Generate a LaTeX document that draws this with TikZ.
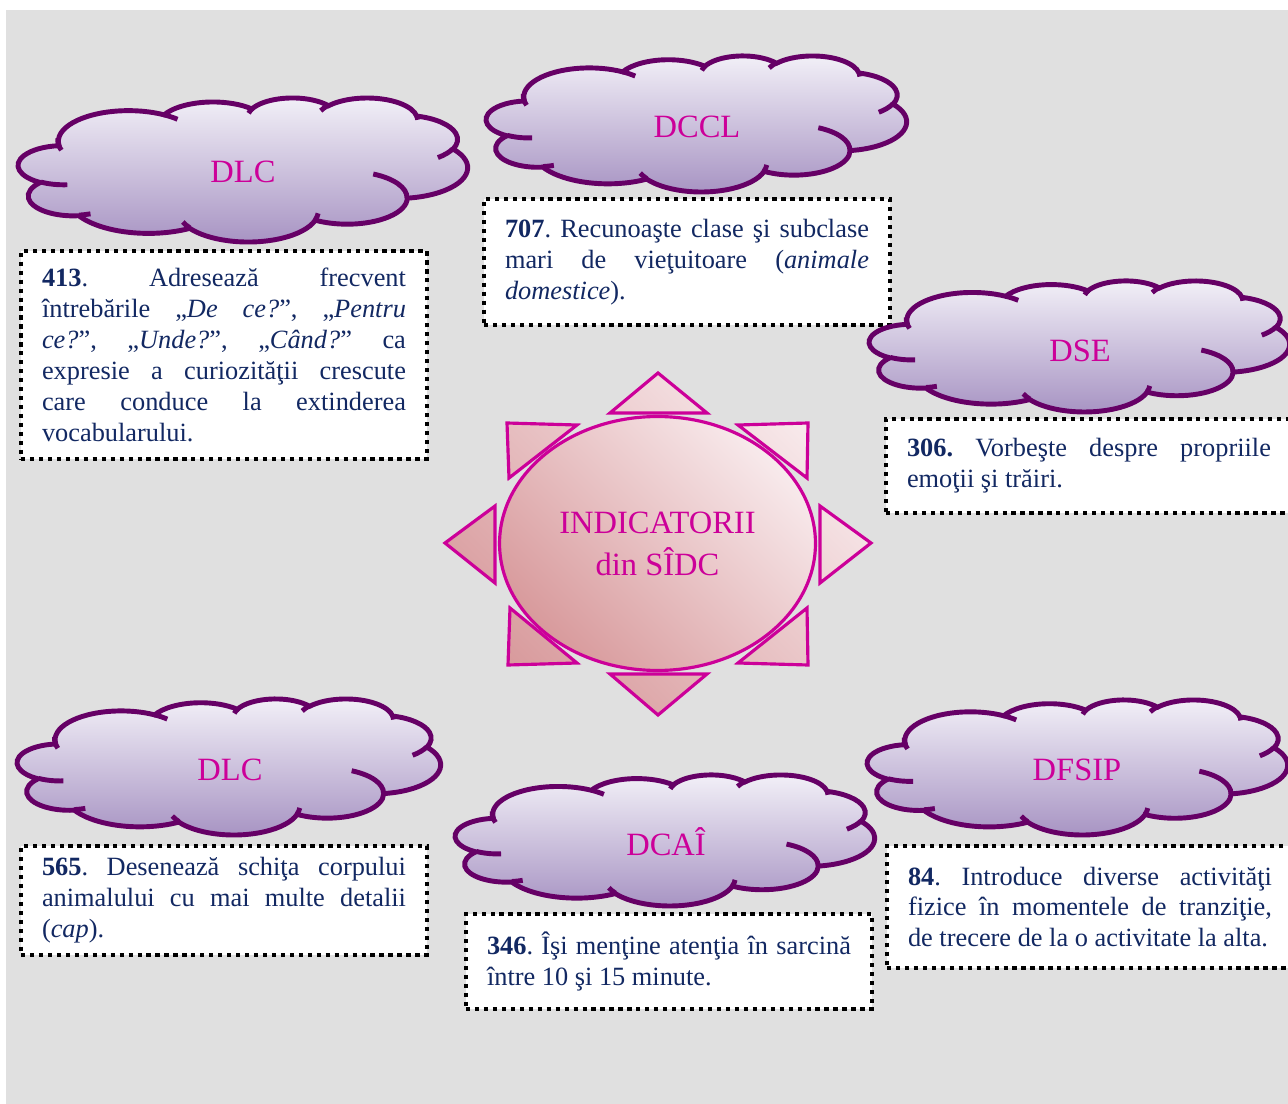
\documentclass[tikz,border=0pt]{standalone}
\usepackage{fontspec}
\setmainfont{Liberation Serif}
\usetikzlibrary{shapes.geometric}

\definecolor{navy}{RGB}{18,40,98}
\definecolor{mag}{RGB}{204,0,153}
\definecolor{cloudline}{RGB}{102,0,102}
\definecolor{cloudtop}{RGB}{243,241,248}
\definecolor{cloudbot}{RGB}{166,146,194}
\definecolor{pinklight}{RGB}{248,234,236}
\definecolor{pinkdark}{RGB}{216,154,156}
\definecolor{bg}{RGB}{224,224,224}
\tolerance=10000 \hbadness=10000 \hfuzz=20pt
\frenchspacing

% one bulge of the cloud: x radius, y radius, start and sweep angle (degrees)
\newcommand\puff[4]{arc[x radius=#1, y radius=#2,
  start angle={atan2(#1*sin(#3),#2*cos(#3))},
  delta angle={mod(atan2(#1*sin(#3+#4),#2*cos(#3+#4))-atan2(#1*sin(#3),#2*cos(#3))+720,360)}]}

\tikzset{
  pics/wcloud/.style={code={
    \shade[top color=cloudtop, bottom color=cloudbot, draw=cloudline, line width=2.8pt]
      (3.9,14.37) \puff{6.753}{9.19}{-190.4875}{123.7805}
      \puff{5.333}{7.267}{-144.1024}{89.9452}
      \puff{4.365}{5.945}{-145.8079}{99.723}
      \puff{4.857}{6.595}{-130.9861}{117.2417}
      \puff{5.333}{7.273}{-78.7089}{109.0269}
      \puff{6.775}{9.22}{-46.2673}{130.269}
      \puff{5.785}{7.867}{0.625}{114.0333}
      \puff{6.752}{9.215}{22.4516}{115.1726}
      \puff{7.72}{10.543}{66.2426}{75.711}
      \puff{4.36}{5.951}{-274.9421}{146.7356}
      \puff{4.345}{5.945}{-246.8285}{152.5189} -- cycle;
    \draw[cloudline, line width=2.8pt]
      (4.693,26.177) \puff{4.345}{5.945}{86.742}{26.4295}
      (6.928,34.899) \puff{4.36}{5.951}{73.6105}{11.4475}
      (16.478,39.09) \puff{6.752}{9.215}{137.6242}{14.0811}
      (28.827,34.751) \puff{6.752}{9.215}{6.4533}{15.9984}
      (34.129,22.954) \puff{5.785}{7.867}{-70.2924}{70.9174}
      (41.798,15.354) \puff{5.333}{7.273}{30.318}{27.7515}
      (38.324,5.426) \puff{4.857}{6.595}{-13.7443}{14.8589}
      (29.078,3.952) \puff{4.857}{6.595}{-149.1815}{18.1954}
      (22.141,4.72) \puff{4.365}{5.945}{-163.4943}{17.6864}
      (14,5.192) \puff{6.753}{9.19}{-66.707}{12.3194}
      (4.127,15.789) \puff{6.753}{9.19}{155.6472}{29.8981};
  }}
}

\begin{document}
\begin{tikzpicture}[x=0.02cm, y=-0.02cm,
  descbox/.style={draw, line width=2.3pt, dash pattern=on 2.4pt off 2.7pt, fill=white,
    text=navy, text width=7.28cm, inner xsep=0.42cm, inner ysep=0pt, align=justify,
    anchor=north west, font=\fontsize{15}{17.6}\selectfont},
  ctitle/.style={text=mag, font=\fontsize{18.5}{22}\selectfont},
  tri/.style={top color=pinklight, bottom color=pinkdark, shading angle=-45, draw=mag, line width=1.8pt},
  oval/.style={ellipse, draw=mag, line width=1.8pt, top color=pinklight, bottom color=pinkdark,
    shading angle=-45, minimum width=6.32cm, minimum height=5.08cm, inner sep=0pt,
    text=mag, align=center, font=\fontsize{18.5}{23.9}\selectfont}]

\useasboundingbox (0,0) rectangle (1288,1104);
\fill[white] (0,0) rectangle (1288,1104);
\fill[bg] (6,10) rectangle (1288,1104);

% text boxes
\node[descbox, minimum height=4.16cm] (b413) at (19,249) {\textbf{413}. Adresează frecvent\linebreak
  întrebările „\textit{De ce?}”, „\textit{Pentru}\linebreak
  \textit{ce?}”, „\textit{Unde?}”, „\textit{Când?}” ca\linebreak
  expresie a curiozităţii crescute\linebreak
  care conduce la extinderea\linebreak
  vocabularului.};
\node[descbox, minimum height=2.52cm] (b707) at (482,197) {\textbf{707}. Recunoaşte clase şi subclase\linebreak
  mari de vieţuitoare (\textit{animale}\linebreak
  \textit{domestice}).};
\node[descbox, minimum height=1.88cm] (b306) at (884,417) {\textbf{306.} Vorbeşte despre propriile\linebreak
  emoţii şi trăiri.};
\node[descbox, minimum height=2.18cm] (b565) at (19,844) {\textbf{565}. Desenează schiţa corpului\linebreak
  animalului cu mai multe detalii\linebreak
  (\textit{cap}).};
\node[descbox, minimum height=1.9cm] (b346) at (464,912) {\textbf{346}. Îşi menţine atenţia în sarcină\linebreak
  între 10 şi 15 minute.};
\node[descbox, minimum height=2.44cm] (b84) at (885,844) {\textbf{84}. Introduce diverse activităţi\linebreak
  fizice în momentele de tranziţie,\linebreak
  de trecere de la o activitate la alta.};

% clouds
\pic[xscale=449/43.2, yscale=144/43.2] at (18.5,97.5) {wcloud};
\pic[xscale=420/43.2, yscale=136/43.2] at (486.5,55.5) {wcloud};
\pic[xscale=420/43.2, yscale=131/43.2] at (869.5,280.5) {wcloud};
\pic[xscale=423/43.2, yscale=136/43.2] at (17.5,698.5) {wcloud};
\pic[xscale=419/43.2, yscale=131/43.2] at (455.5,774.5) {wcloud};
\pic[xscale=420/43.2, yscale=135/43.2] at (867.5,699.5) {wcloud};

\node[ctitle] (dlc1) at (243,172) {DLC};
\node[ctitle] (dccl) at (697,127) {DCCL};
\node[ctitle] (dse) at (1080,351) {DSE};
\node[ctitle] (dlc2) at (230,770) {DLC};
\node[ctitle] (dcai) at (666,842) {DCAÎ};
\node[ctitle] (dfsip) at (1077,770) {DFSIP};

% centre
\shade[tri]
  (610,413) -- (658,373) -- (707,413) -- cycle
  (610,674) -- (658,715) -- (707,674) -- cycle
  (495,506) -- (445,543) -- (495,583) -- cycle
  (820,506) -- (871,543) -- (820,583) -- cycle
  (507,423) -- (577,425) -- (509,478) -- cycle
  (808,423) -- (738,425) -- (807,478) -- cycle
  (508,665) -- (577,663) -- (510,608) -- cycle
  (808,665) -- (738,663) -- (807,608) -- cycle;
\node[oval] (ind) at (657.5,543.5) {INDICATORII\\din SÎDC};
\end{tikzpicture}
\end{document}
